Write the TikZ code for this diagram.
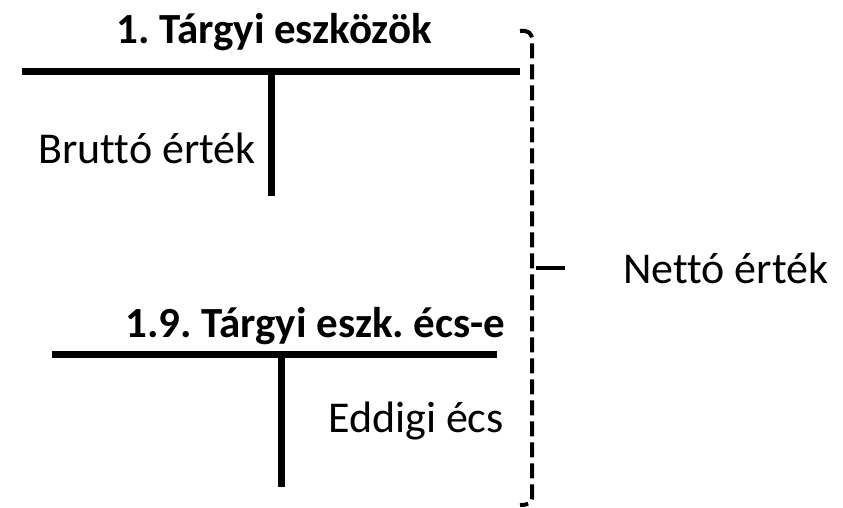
\documentclass[tikz,border=0pt]{standalone}
\usepackage{fontspec}
\setmainfont{Carlito}[Ligatures={NoCommon,NoContextual},RawFeature={-liga}]
\frenchspacing
\begin{document}
\begin{tikzpicture}[x=1pt,y=-1pt,
  lbl/.style={inner sep=0pt,anchor=base west,font=\fontsize{44}{50}\selectfont},
  ttl/.style={inner sep=0pt,anchor=base west,font=\fontsize{43}{50}\selectfont\bfseries},
  tline/.style={line width=7pt},
  brace/.style={line width=4pt,dash pattern=on 15pt off 6pt},
  tick/.style={line width=4.5pt}]
\useasboundingbox (0,0) rectangle (843,507);
% first T account
\node[ttl] (t1) at (116,43) {1. Tárgyi eszközök};
\coordinate (h1a) at (22,71);
\coordinate (h1b) at (520,71);
\coordinate (v1a) at (271,71);
\coordinate (v1b) at (271,196);
\draw[tline] (h1a) -- (h1b);
\draw[tline] (v1a) -- (v1b);
\node[lbl] (brutto) at (38,163) {Bruttó érték};
% second T account
\node[ttl] (t2) at (125,337) {1.9. Tárgyi eszk. écs-e};
\coordinate (h2a) at (52,354);
\coordinate (h2b) at (497,354);
\coordinate (v2a) at (281,354);
\coordinate (v2b) at (281,487);
\draw[tline] (h2a) -- (h2b);
\draw[tline] (v2a) -- (v2b);
\node[lbl] (eddigi) at (328,432) {Eddigi écs};
% brace
\coordinate (bt) at (520,31);
\coordinate (bb) at (520,505);
\draw[brace] (bt) .. controls (528,30) and (532,33) .. (532,40) -- (532,498) .. controls (532,503) and (528,505) .. (bb);
\coordinate (tk1) at (536,268);
\coordinate (tk2) at (565,268);
\draw[tick] (tk1) -- (tk2);
\node[lbl] (netto) at (623,283) {Nettó érték};
\end{tikzpicture}
\end{document}
